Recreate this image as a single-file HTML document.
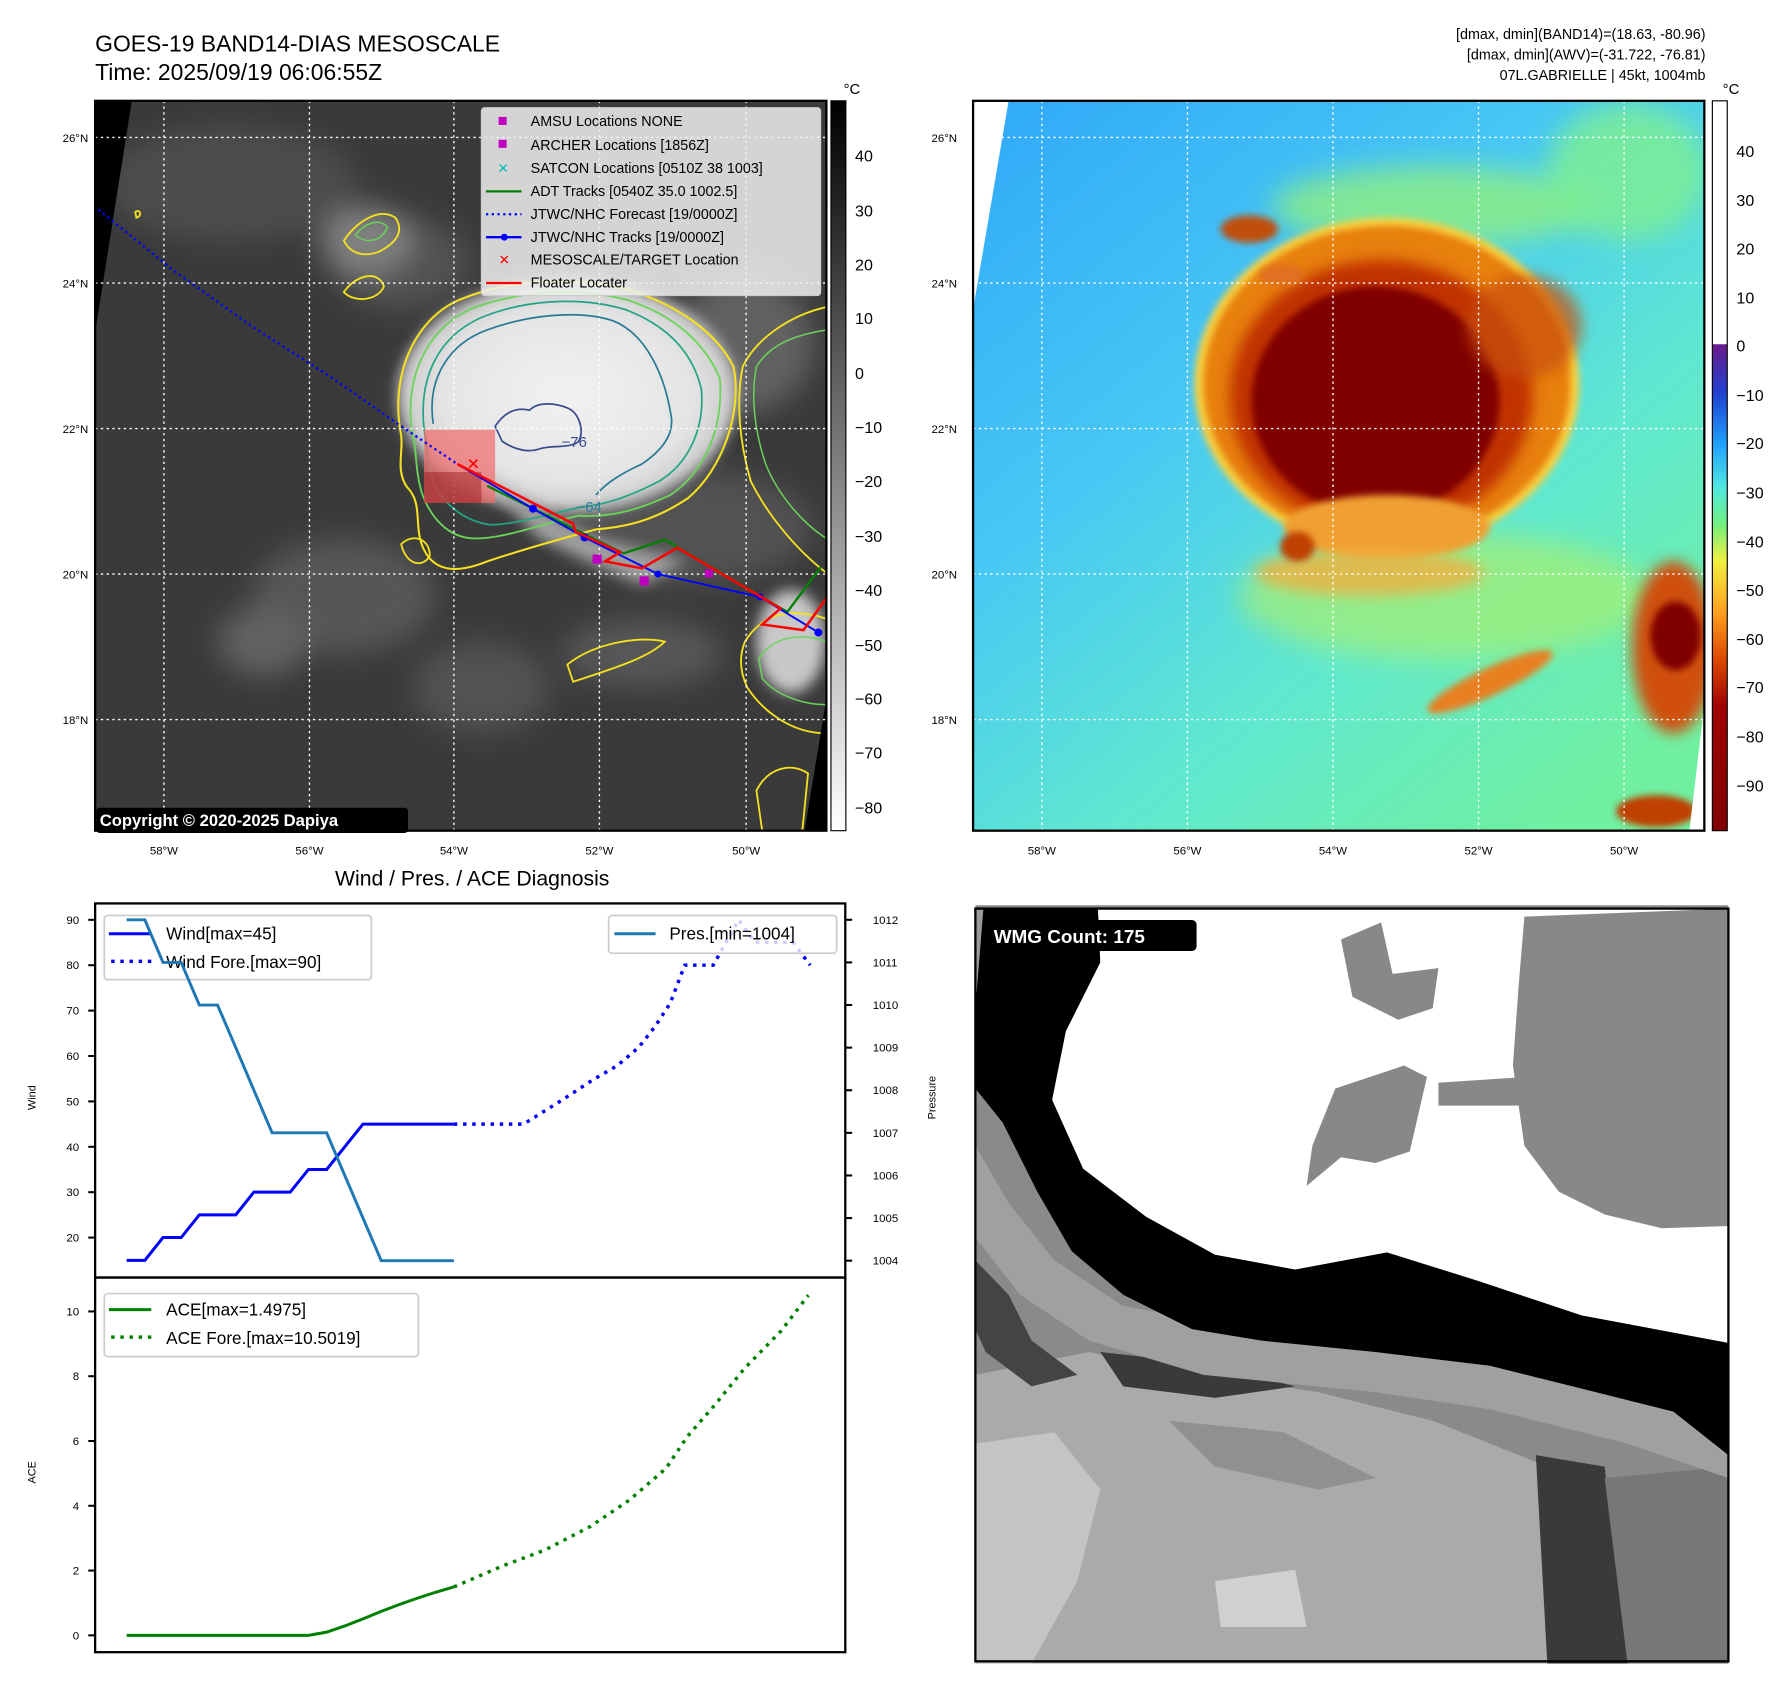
<!DOCTYPE html>
<html><head><meta charset="utf-8">
<style>
html,body{margin:0;padding:0;background:#fff;}
svg{display:block;font-family:"Liberation Sans","DejaVu Sans",sans-serif;}
</style></head>
<body>
<svg id="root" width="1788" height="1690" viewBox="0 0 1560 1475" preserveAspectRatio="none" xmlns="http://www.w3.org/2000/svg">
<defs>
  <filter id="blur6" x="-30%" y="-30%" width="160%" height="160%"><feGaussianBlur stdDeviation="6"/></filter>
  <filter id="blur12" x="-30%" y="-30%" width="160%" height="160%"><feGaussianBlur stdDeviation="12"/></filter>
  <filter id="blur3" x="-30%" y="-30%" width="160%" height="160%"><feGaussianBlur stdDeviation="3"/></filter>
  <linearGradient id="cbGray" x1="0" y1="0" x2="0" y2="1">
    <stop offset="0" stop-color="#000"/><stop offset="1" stop-color="#fff"/>
  </linearGradient>
  <linearGradient id="cbColor" x1="0" y1="0" x2="0" y2="1">
    <stop offset="0" stop-color="#ffffff"/>
    <stop offset="0.333" stop-color="#ffffff"/>
    <stop offset="0.334" stop-color="#6a1a8a"/>
    <stop offset="0.40" stop-color="#2040d0"/>
    <stop offset="0.47" stop-color="#20a0ff"/>
    <stop offset="0.53" stop-color="#50e8e0"/>
    <stop offset="0.58" stop-color="#70f080"/>
    <stop offset="0.63" stop-color="#f0f040"/>
    <stop offset="0.70" stop-color="#ffa020"/>
    <stop offset="0.76" stop-color="#e05000"/>
    <stop offset="0.83" stop-color="#a00000"/>
    <stop offset="1" stop-color="#800000"/>
  </linearGradient>
  <linearGradient id="map2bg" x1="0" y1="0" x2="0.8" y2="1">
    <stop offset="0" stop-color="#30a8f8"/>
    <stop offset="0.4" stop-color="#48c8f4"/>
    <stop offset="0.7" stop-color="#60e8d0"/>
    <stop offset="1" stop-color="#70f0a0"/>
  </linearGradient>
  <radialGradient id="cloud1" cx="0.5" cy="0.5" r="0.5">
    <stop offset="0" stop-color="#f2f2f2"/><stop offset="0.75" stop-color="#e4e4e4"/><stop offset="1" stop-color="#c8c8c8"/>
  </radialGradient>
  <clipPath id="clipM1"><rect x="83" y="88" width="638" height="637"/></clipPath>
  <clipPath id="clipM2"><rect x="849" y="88" width="638" height="637"/></clipPath>
  <clipPath id="clipW"><rect x="851" y="790" width="657" height="662"/></clipPath>
</defs>

<text x="83" y="45" font-size="20" fill="#000">GOES-19 BAND14-DIAS MESOSCALE</text>
<text x="83" y="70" font-size="20" fill="#000">Time: 2025/09/19 06:06:55Z</text>
<g font-size="12.5" text-anchor="end" fill="#000">
  <text x="1488" y="34">[dmax, dmin](BAND14)=(18.63, -80.96)</text>
  <text x="1488" y="52">[dmax, dmin](AWV)=(-31.722, -76.81)</text>
  <text x="1488" y="70">07L.GABRIELLE | 45kt, 1004mb</text>
</g>

<!-- MAP 1 -->
<g>
 <g clip-path="url(#clipM1)">
  <rect x="83" y="88" width="638" height="637" fill="#3a3a3a"/>
  <g filter="url(#blur12)" opacity="0.9">
    <ellipse cx="200" cy="160" rx="110" ry="50" fill="#505050"/>
    <ellipse cx="350" cy="230" rx="60" ry="40" fill="#555"/>
    <ellipse cx="300" cy="520" rx="80" ry="50" fill="#5a5a5a"/>
    <ellipse cx="230" cy="560" rx="40" ry="30" fill="#666"/>
    <ellipse cx="420" cy="600" rx="60" ry="40" fill="#555"/>
    <ellipse cx="600" cy="460" rx="110" ry="50" fill="#555"/>
    <ellipse cx="650" cy="300" rx="60" ry="60" fill="#666"/>
    <ellipse cx="320" cy="210" rx="40" ry="30" fill="#888"/>
    <ellipse cx="560" cy="570" rx="70" ry="30" fill="#5a5a5a"/>
  </g>
  <ellipse cx="495" cy="345" rx="148" ry="102" fill="url(#cloud1)" filter="url(#blur6)"/>
  <path d="M420 415 L520 470 L600 490 L560 510 L470 470 Z" fill="#a0a0a0" filter="url(#blur6)"/>
  <ellipse cx="690" cy="560" rx="30" ry="45" fill="#c8c8c8" filter="url(#blur6)"/>
  <path d="M350 380 C340 330 360 280 400 262 C440 245 500 240 545 252 C590 265 625 290 640 320 C648 360 630 410 600 435 C570 455 545 460 520 462 C490 470 455 480 425 490 C400 500 380 500 370 480 C360 460 370 440 355 425 C345 410 352 395 350 380 Z" fill="none" stroke="#f5e11f" stroke-width="1.8"/>
  <path d="M360 380 C352 330 372 288 410 270 C450 254 505 250 548 262 C590 276 615 300 628 330 C632 380 610 415 585 432 C555 446 530 452 505 450 C470 458 440 470 415 470 C390 470 375 450 368 430 C362 410 364 395 360 380 Z" fill="none" stroke="#6cd35a" stroke-width="1.6"/>
  <path d="M370 375 C365 330 382 295 418 278 C455 262 505 258 545 270 C585 285 605 310 612 340 C615 375 600 405 575 420 C550 433 530 440 510 442 C480 448 450 458 428 458 C405 455 388 440 380 425 C372 405 373 390 370 375 Z" fill="none" stroke="#21a585" stroke-width="1.5"/>
  <path d="M378 370 C372 330 392 300 425 288 C460 275 505 270 535 280 C565 292 580 330 585 360 C590 380 575 395 560 405 C545 412 530 420 520 432" fill="none" stroke="#2a7a95" stroke-width="1.5"/>
  <path d="M432 372 C440 360 450 355 462 358 C470 350 485 352 495 356 C505 360 510 375 505 385 C498 392 480 388 470 392 C458 396 445 390 438 385 Z" fill="none" stroke="#3b4c8e" stroke-width="1.5"/>
  <g fill="none" stroke="#f5e11f" stroke-width="1.6">
    <path d="M300 210 C310 195 330 180 345 190 C355 205 340 215 330 220 C315 225 305 220 300 210 Z"/>
    <path d="M300 255 C310 240 330 235 335 250 C330 262 310 265 300 255 Z"/>
    <path d="M350 475 C360 465 375 470 375 485 C370 495 355 495 350 475 Z"/>
    <path d="M495 580 C520 560 560 555 580 560 C565 575 530 585 500 595 Z"/>
    <path d="M650 560 C665 535 690 530 721 540 L721 640 C690 640 665 620 652 600 C645 585 645 572 650 560 Z"/>
    <path d="M648 320 C660 295 690 275 721 268 L721 500 C695 480 670 450 655 420 C645 385 642 350 648 320 Z"/>
    <path d="M660 690 C670 670 690 665 705 675 L700 725 L665 725 Z"/>
    <path d="M118 185 C122 182 125 188 119 190 Z"/>
  </g>
  <g fill="none" stroke="#6cd35a" stroke-width="1.3">
    <path d="M660 320 C672 300 695 292 721 288 L721 470 C698 455 678 430 668 405 C658 375 655 345 660 320 Z"/>
    <path d="M662 575 C675 555 698 552 721 560 L721 615 C698 615 675 605 665 592 Z"/>
    <path d="M310 205 C318 195 330 190 338 198 C334 210 320 214 310 205 Z"/>
  </g>
  <polygon points="83,88 115,88 83,290" fill="#000"/>
  <polygon points="721,610 721,725 702,725" fill="#000"/>
  <g stroke="#fff" stroke-width="1.2" stroke-dasharray="2,3">
    <line x1="143" y1="88" x2="143" y2="725"/><line x1="270" y1="88" x2="270" y2="725"/><line x1="396" y1="88" x2="396" y2="725"/><line x1="523" y1="88" x2="523" y2="725"/><line x1="651" y1="88" x2="651" y2="725"/>
    <line x1="83" y1="120" x2="721" y2="120"/><line x1="83" y1="247" x2="721" y2="247"/><line x1="83" y1="374" x2="721" y2="374"/><line x1="83" y1="501" x2="721" y2="501"/><line x1="83" y1="628" x2="721" y2="628"/>
  </g>
  <rect x="370" y="375" width="62" height="64" fill="#f07070" opacity="0.75"/>
  <rect x="370" y="412" width="50" height="27" fill="#a02020" opacity="0.5"/>
  <polyline points="86,183 150,235 220,285 290,330 350,372 399,405" fill="none" stroke="#0000ff" stroke-width="2" stroke-dasharray="2,3"/>
  <polyline points="425,424 544,483 580,471 666,522 687,534 716,495" fill="none" stroke="#008000" stroke-width="2"/>
  <polyline points="399,405 465,444 510,469 574,501 663,521 714,552" fill="none" stroke="#0000ff" stroke-width="1.6"/>
  <g fill="#0000ff"><circle cx="465" cy="444" r="3.5"/><circle cx="510" cy="469" r="3.5"/><circle cx="574" cy="501" r="3"/><circle cx="663" cy="521" r="3"/><circle cx="714" cy="552" r="3.5"/></g>
  <polyline points="399,405 500,457 502,464 541,482 528,490 560,496 591,478 681,531 665,545 701,550 721,522" fill="none" stroke="#ff0000" stroke-width="2.2"/>
  <g fill="#c000c0"><rect x="517" y="484" width="8" height="8"/><rect x="558" y="503" width="8" height="8"/><rect x="615" y="497" width="7" height="7"/></g>
  <text x="413" y="410" font-size="14" font-weight="bold" fill="#ff0000" text-anchor="middle">✕</text>
  <text x="490" y="390" font-size="13" fill="#3b4c8e">−76</text>
  <text x="503" y="447" font-size="13" fill="#2a7a95">−64</text>
  <g>
    <rect x="420" y="94" width="296" height="164" rx="3" fill="#f0f0f0" fill-opacity="0.85" stroke="#ccc"/>
    <g font-size="12.5" fill="#000">
      <rect x="435" y="102" width="7" height="7" fill="#c000c0"/><text x="463" y="110">AMSU Locations NONE</text>
      <rect x="435" y="122" width="7" height="7" fill="#c000c0"/><text x="463" y="131">ARCHER Locations [1856Z]</text>
      <text x="439" y="151" font-size="12" fill="#00c0c0" text-anchor="middle">✕</text><text x="463" y="151">SATCON Locations [0510Z 38 1003]</text>
      <line x1="424" y1="167" x2="455" y2="167" stroke="#008000" stroke-width="2"/><text x="463" y="171">ADT Tracks [0540Z 35.0 1002.5]</text>
      <line x1="424" y1="187" x2="455" y2="187" stroke="#0000ff" stroke-width="2" stroke-dasharray="2,3"/><text x="463" y="191">JTWC/NHC Forecast [19/0000Z]</text>
      <line x1="424" y1="207" x2="455" y2="207" stroke="#0000ff" stroke-width="2"/><circle cx="440" cy="207" r="3" fill="#0000ff"/><text x="463" y="211">JTWC/NHC Tracks [19/0000Z]</text>
      <text x="440" y="231" font-size="12" font-weight="bold" fill="#ff0000" text-anchor="middle">✕</text><text x="463" y="231">MESOSCALE/TARGET Location</text>
      <line x1="424" y1="247" x2="455" y2="247" stroke="#ff0000" stroke-width="2"/><text x="463" y="251">Floater Locater</text>
    </g>
  </g>
 </g>
 <rect x="83" y="88" width="638" height="637" fill="none" stroke="#000" stroke-width="2"/>
 <rect x="84" y="705" width="272" height="22" rx="3" fill="#000"/>
 <text x="87" y="721" font-size="14.5" font-weight="bold" fill="#fff">Copyright © 2020-2025 Dapiya</text>
 <g font-size="10" fill="#000" text-anchor="end">
  <text x="77" y="124">26°N</text><text x="77" y="251">24°N</text><text x="77" y="378">22°N</text><text x="77" y="505">20°N</text><text x="77" y="632">18°N</text>
 </g>
 <g font-size="10" fill="#000" text-anchor="middle">
  <text x="143" y="746">58°W</text><text x="270" y="746">56°W</text><text x="396" y="746">54°W</text><text x="523" y="746">52°W</text><text x="651" y="746">50°W</text>
 </g>
</g>
<g>
  <rect x="725" y="88" width="13" height="637" fill="url(#cbGray)" stroke="#000" stroke-width="1"/>
  <text x="736" y="82" font-size="13">°C</text>
  <g font-size="14" fill="#000">
    <text x="746" y="141">40</text><text x="746" y="189">30</text><text x="746" y="236">20</text><text x="746" y="283">10</text><text x="746" y="331">0</text>
    <text x="746" y="378">−10</text><text x="746" y="425">−20</text><text x="746" y="473">−30</text><text x="746" y="520">−40</text><text x="746" y="568">−50</text>
    <text x="746" y="615">−60</text><text x="746" y="662">−70</text><text x="746" y="710">−80</text>
  </g>
</g>

<!-- MAP 2 -->
<g>
 <g clip-path="url(#clipM2)">
  <rect x="849" y="88" width="638" height="637" fill="url(#map2bg)"/>
  <ellipse cx="1250" cy="180" rx="140" ry="35" fill="#90f080" filter="url(#blur12)" opacity="0.8"/>
  <ellipse cx="1260" cy="520" rx="180" ry="55" fill="#a8f070" filter="url(#blur12)" opacity="0.7"/>
  <ellipse cx="1420" cy="150" rx="70" ry="60" fill="#80f090" filter="url(#blur12)" opacity="0.8"/>
  <ellipse cx="1210" cy="335" rx="168" ry="145" fill="#f8d040" filter="url(#blur3)"/>
  <ellipse cx="1210" cy="335" rx="160" ry="138" fill="#e88010" filter="url(#blur3)"/>
  <ellipse cx="1205" cy="345" rx="132" ry="118" fill="#c03000" filter="url(#blur6)"/>
  <ellipse cx="1200" cy="350" rx="108" ry="100" fill="#800000" filter="url(#blur3)"/>
  <ellipse cx="1330" cy="285" rx="50" ry="45" fill="#c85010" filter="url(#blur6)" opacity="0.7"/>
  <ellipse cx="1210" cy="460" rx="90" ry="28" fill="#f0a030" filter="url(#blur3)"/>
  <ellipse cx="1195" cy="500" rx="100" ry="20" fill="#f0b040" filter="url(#blur6)" opacity="0.8"/>
  <ellipse cx="1460" cy="565" rx="36" ry="75" fill="#d05010" filter="url(#blur6)"/>
  <ellipse cx="1462" cy="555" rx="22" ry="30" fill="#800000" filter="url(#blur3)"/>
  <ellipse cx="1300" cy="595" rx="60" ry="12" fill="#e88020" filter="url(#blur3)" transform="rotate(-25 1300 595)"/>
  <ellipse cx="1445" cy="708" rx="35" ry="14" fill="#c04000" filter="url(#blur3)"/>
  <ellipse cx="1132" cy="477" rx="15" ry="13" fill="#c04000" filter="url(#blur3)"/>
  <ellipse cx="1090" cy="200" rx="25" ry="12" fill="#c05010" filter="url(#blur3)"/>
  <ellipse cx="1118" cy="240" rx="20" ry="9" fill="#e07020" filter="url(#blur3)"/>
  <polygon points="849,88 880,88 849,270" fill="#fff"/>
  <polygon points="1487,615 1487,725 1474,725" fill="#fff"/>
  <g stroke="#fff" stroke-width="1.2" stroke-dasharray="2,3">
    <line x1="909" y1="88" x2="909" y2="725"/><line x1="1036" y1="88" x2="1036" y2="725"/><line x1="1163" y1="88" x2="1163" y2="725"/><line x1="1290" y1="88" x2="1290" y2="725"/><line x1="1417" y1="88" x2="1417" y2="725"/>
    <line x1="849" y1="120" x2="1487" y2="120"/><line x1="849" y1="247" x2="1487" y2="247"/><line x1="849" y1="374" x2="1487" y2="374"/><line x1="849" y1="501" x2="1487" y2="501"/><line x1="849" y1="628" x2="1487" y2="628"/>
  </g>
 </g>
 <rect x="849" y="88" width="638" height="637" fill="none" stroke="#000" stroke-width="2"/>
 <g font-size="10" fill="#000" text-anchor="end">
  <text x="835" y="124">26°N</text><text x="835" y="251">24°N</text><text x="835" y="378">22°N</text><text x="835" y="505">20°N</text><text x="835" y="632">18°N</text>
 </g>
 <g font-size="10" fill="#000" text-anchor="middle">
  <text x="909" y="746">58°W</text><text x="1036" y="746">56°W</text><text x="1163" y="746">54°W</text><text x="1290" y="746">52°W</text><text x="1417" y="746">50°W</text>
 </g>
</g>
<g>
  <rect x="1494" y="88" width="13" height="637" fill="url(#cbColor)" stroke="#000" stroke-width="1"/>
  <text x="1503" y="82" font-size="13">°C</text>
  <g font-size="14" fill="#000">
    <text x="1515" y="137">40</text><text x="1515" y="180">30</text><text x="1515" y="222">20</text><text x="1515" y="265">10</text><text x="1515" y="307">0</text>
    <text x="1515" y="350">−10</text><text x="1515" y="392">−20</text><text x="1515" y="435">−30</text><text x="1515" y="478">−40</text><text x="1515" y="520">−50</text>
    <text x="1515" y="563">−60</text><text x="1515" y="605">−70</text><text x="1515" y="648">−80</text><text x="1515" y="691">−90</text>
  </g>
</g>

<!-- WMG panel -->
<g>
 <g clip-path="url(#clipW)">
  <rect x="851" y="790" width="657" height="662" fill="#8a8a8a"/>
  <polygon points="851,1200 950,1180 1050,1200 1150,1215 1250,1240 1350,1280 1370,1452 851,1452" fill="#aaaaaa"/>
  <polygon points="851,1260 920,1250 960,1300 940,1380 900,1452 851,1452" fill="#c4c4c4"/>
  <polygon points="1060,1380 1130,1370 1140,1420 1065,1420" fill="#d0d0d0"/>
  <polygon points="1020,1240 1120,1250 1200,1290 1150,1300 1060,1280" fill="#909090"/>
  <polygon points="1340,1270 1400,1280 1420,1452 1350,1452" fill="#3a3a3a"/>
  <polygon points="1400,1290 1508,1280 1508,1452 1420,1452" fill="#777"/>
  <polygon points="960,1180 1050,1190 1130,1210 1060,1220 980,1210" fill="#3a3a3a"/>
  <polygon points="851,1100 880,1130 900,1170 940,1200 900,1210 860,1180 851,1160" fill="#444"/>
  <polygon points="851,1000 880,1050 920,1100 980,1140 1100,1160 1250,1165 1400,1200 1508,1230 1508,1290 1420,1260 1300,1230 1200,1215 1050,1200 950,1170 890,1130 851,1080" fill="#a0a0a0"/>
  <polygon points="851,793 958,793 960,840 930,900 918,960 945,1020 1000,1062 1060,1095 1130,1108 1210,1093 1290,1118 1380,1148 1508,1172 1508,1270 1460,1232 1380,1212 1300,1192 1200,1180 1100,1170 1040,1160 980,1130 935,1092 905,1040 875,980 851,950" fill="#000"/>
  <polygon points="958,793 1508,793 1508,1172 1380,1148 1290,1118 1210,1093 1130,1108 1060,1095 1000,1062 945,1020 918,960 930,900 960,840" fill="#fff"/>
  <polygon points="1330,800 1508,793 1508,1070 1450,1072 1400,1060 1360,1040 1330,1000 1320,930 1325,860" fill="#888"/>
  <polygon points="1255,945 1330,940 1330,965 1255,965" fill="#888"/>
  <polygon points="1165,950 1225,930 1245,940 1230,1005 1200,1015 1170,1010 1140,1035 1145,1000" fill="#888"/>
  <polygon points="1170,820 1205,805 1215,850 1255,845 1250,880 1220,890 1180,870" fill="#888"/>
  <rect x="1435" y="1046" width="14" height="14" fill="#888"/>
  <polygon points="851,793 858,793 851,880" fill="#999"/>
 </g>
 <rect x="851" y="793" width="657" height="657" fill="none" stroke="#000" stroke-width="2"/>
 <rect x="860" y="803" width="184" height="27" rx="4" fill="#000"/>
 <text x="867" y="823" font-size="16.5" font-weight="bold" fill="#fff">WMG Count: 175</text>
</g>

<!-- CHART -->
<text x="412" y="773" font-size="18.5" text-anchor="middle" fill="#000">Wind / Pres. / ACE Diagnosis</text>
<g id="chart"></g>

<script>
var obsHours = [0,3,6,9,12,15,18,21,24,27,30,33,36,39,42,45,48,51,54];
var windObs  = [15,15,20,20,25,25,25,30,30,30,35,35,40,45,45,45,45,45,45];
var presObs  = [1012,1012,1011,1011,1010,1010,1009,1008,1007,1007,1007,1007,1006,1005,1004,1004,1004,1004,1004];
var aceObs   = [0,0,0,0,0,0,0,0,0,0,0,0.1,0.29,0.51,0.74,0.95,1.15,1.33,1.4975];
var foreHours = [54,65.5,71.5,77,81,84.5,87.2,89.7,91.3,92.1,96.8,101,103.7,110,112.8];
var windFore  = [45,45,50,54.8,57.9,61.9,66.5,71.6,77.2,80,80,90,85,85,80];
var aceForeHours = [54,62,69,76.5,83,89,92.5,97,102,108,112.5];
var aceFore      = [1.4975,2.14,2.63,3.36,4.18,5.15,6.13,7.1,8.25,9.4,10.5019];
var windTicks = [20,30,40,50,60,70,80,90];
var presTicks = [1004,1005,1006,1007,1008,1009,1010,1011,1012];
var aceTicks  = [0,2,4,6,8,10];

var NS = "http://www.w3.org/2000/svg";
var chart = document.getElementById('chart');
function X(h){ return 110.5 + h*5.287; }
function Yw(v){ return 802.8 + (90 - v)*3.962; }
function Yp(v){ return 1100.3 - (v - 1004)*37.19; }
function Ya(v){ return 1427.3 - v*28.27; }
function mk(tag, attrs, parent){
  var e = document.createElementNS(NS, tag);
  for (var k in attrs) e.setAttribute(k, attrs[k]);
  (parent||chart).appendChild(e);
  return e;
}
function pts(xs, ys, fy){ return xs.map(function(h,i){ return X(h).toFixed(1)+','+fy(ys[i]).toFixed(1); }).join(' '); }

var L=83, R=737.5, T1=788.5, M=1115, B=1442;

windTicks.forEach(function(v){
  var y=Yw(v);
  var t=mk('line',{x1:L-6,y1:y,x2:L,y2:y,stroke:'#000','stroke-width':1.8});
  
  
  var tx=mk('text',{x:L-14,y:y+3.5,'font-size':10,'text-anchor':'end'}); tx.textContent=v;
  
  
});
presTicks.forEach(function(v){
  var y=Yp(v);
  var t=mk('line',{x1:R,y1:y,x2:R+6,y2:y,stroke:'#000','stroke-width':1.8});
  
  
  var tx=mk('text',{x:R+24,y:y+3.5,'font-size':10}); tx.textContent=v;
  
  
});
aceTicks.forEach(function(v){
  var y=Ya(v);
  var t=mk('line',{x1:L-6,y1:y,x2:L,y2:y,stroke:'#000','stroke-width':1.8});
  
  
  var tx=mk('text',{x:L-14,y:y+3.5,'font-size':10,'text-anchor':'end'}); tx.textContent=v;
  
  
});
var yl1=mk('text',{x:0,y:0,'font-size':9.5,'text-anchor':'middle',transform:'translate(31,958) rotate(-90)'}); yl1.textContent='Wind';


var yl2=mk('text',{x:0,y:0,'font-size':9.5,'text-anchor':'middle',transform:'translate(816,958) rotate(-90)'}); yl2.textContent='Pressure';


var yl3=mk('text',{x:0,y:0,'font-size':9.5,'text-anchor':'middle',transform:'translate(31,1285) rotate(-90)'}); yl3.textContent='ACE';



var wl=mk('polyline',{points:pts(obsHours,windObs,Yw),fill:'none',stroke:'#0000ff','stroke-width':2.6});


var wf=mk('polyline',{points:pts(foreHours,windFore,Yw),fill:'none',stroke:'#0000ff','stroke-width':3,'stroke-dasharray':'3,5'});



var lg1=mk('g',{});


mk('rect',{x:91,y:799,width:233,height:56,rx:3,fill:'#fff','fill-opacity':0.8,stroke:'#ccc','stroke-width':1.5},lg1);
mk('line',{x1:95,y1:815,x2:132,y2:815,stroke:'#0000ff','stroke-width':2.6},lg1);
mk('line',{x1:97,y1:839,x2:132,y2:839,stroke:'#0000ff','stroke-width':3,'stroke-dasharray':'3,5'},lg1);
var t1=mk('text',{x:145,y:820,'font-size':15},lg1); t1.textContent='Wind[max=45]';
var t2=mk('text',{x:145,y:845,'font-size':15},lg1); t2.textContent='Wind Fore.[max=90]';

var pl=mk('polyline',{points:pts(obsHours,presObs,Yp),fill:'none',stroke:'#1f77b4','stroke-width':2.6});



var lg2=mk('g',{});


mk('rect',{x:531,y:799,width:199,height:33,rx:3,fill:'#fff','fill-opacity':0.8,stroke:'#ccc','stroke-width':1.5},lg2);
mk('line',{x1:536,y1:815,x2:572,y2:815,stroke:'#1f77b4','stroke-width':2.6},lg2);
var t3=mk('text',{x:584,y:820,'font-size':15},lg2); t3.textContent='Pres.[min=1004]';

var al=mk('polyline',{points:pts(obsHours,aceObs,Ya),fill:'none',stroke:'#008000','stroke-width':2.6});


var af=mk('polyline',{points:pts(aceForeHours,aceFore,Ya),fill:'none',stroke:'#008000','stroke-width':3,'stroke-dasharray':'3,5'});


var lg3=mk('g',{});


mk('rect',{x:91,y:1129,width:274,height:55,rx:3,fill:'#fff','fill-opacity':0.8,stroke:'#ccc','stroke-width':1.5},lg3);
mk('line',{x1:95,y1:1143,x2:132,y2:1143,stroke:'#008000','stroke-width':2.6},lg3);
mk('line',{x1:97,y1:1167,x2:132,y2:1167,stroke:'#008000','stroke-width':3,'stroke-dasharray':'3,5'},lg3);
var t4=mk('text',{x:145,y:1148,'font-size':15},lg3); t4.textContent='ACE[max=1.4975]';
var t5=mk('text',{x:145,y:1173,'font-size':15},lg3); t5.textContent='ACE Fore.[max=10.5019]';

var f1=mk('rect',{x:L,y:T1,width:R-L,height:M-T1,fill:'none',stroke:'#000','stroke-width':2});


var f2=mk('rect',{x:L,y:M,width:R-L,height:B-M,fill:'none',stroke:'#000','stroke-width':2});


</script>
</svg>
</body></html>
